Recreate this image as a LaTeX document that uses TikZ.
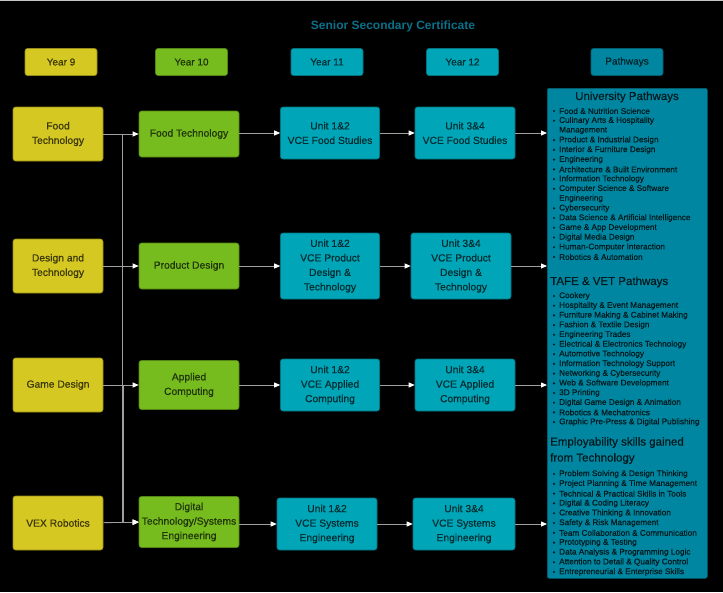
\documentclass[tikz,border=0pt]{standalone}
\usepackage{fontspec}
\setmainfont{Liberation Sans}
\newfontfamily\medfont{Liberation Sans}[FakeBold=0.6]
\usepackage{xcolor}
\usetikzlibrary{arrows.meta,positioning}

\definecolor{yrnine}{HTML}{D6C823}
\definecolor{yrten}{HTML}{76BC1F}
\definecolor{vceteal}{HTML}{00A6B7}
\definecolor{pathteal}{HTML}{0086A0}
\definecolor{titleteal}{HTML}{0A7089}

\tikzset{
  box/.style={draw=#1!70!black, fill=#1, rounded corners=2.5pt, line width=0.6pt,
    align=center, text=#1!28!black, inner sep=1pt,
    font=\medfont\fontsize{10.3}{14.5}\selectfont},
  hdr/.style={box=#1, minimum width=72pt, minimum height=27pt,
    font=\medfont\fontsize{10}{12}\selectfont},
  conn/.style={draw=gray!75, line width=0.8pt,
    -{Triangle[width=5pt,length=6pt,color=white]}},
  item/.style={anchor=west, inner sep=0pt, text=pathteal!20!black,
    font=\medfont\fontsize{8.2}{9.7}\selectfont},
  pathhead/.style={inner sep=0pt, text=pathteal!20!black,
    font=\medfont\fontsize{11.5}{16}\selectfont}
}

\begin{document}
\begin{tikzpicture}[x=1pt,y=-1pt]
\useasboundingbox[fill=black] (0,0) rectangle (723,592);
\draw[gray!45,line width=1pt] (0,0.5) -- (723,0.5);

% Title and column headers
\node[text=titleteal,font=\bfseries\fontsize{12}{14}\selectfont] (title) at (393,26) {Senior Secondary Certificate};
\node[hdr=yrnine] (h9) at (61,62) {Year 9};
\node[hdr=yrten] (h10) at (191.5,62) {Year 10};
\node[hdr=vceteal] (h11) at (327,62) {Year 11};
\node[hdr=vceteal] (h12) at (462.5,62) {Year 12};
\node[hdr=pathteal] (hpath) at (627,62) {Pathways};

% Year 9
\node[box=yrnine,minimum width=90pt,minimum height=54pt] (food9) at (58,134) {Food\\Technology};
\node[box=yrnine,minimum width=90pt,minimum height=54pt] (design9) at (58,266) {Design and\\Technology};
\node[box=yrnine,minimum width=90pt,minimum height=54pt] (game9) at (58,385) {Game Design};
\node[box=yrnine,minimum width=90pt,minimum height=54pt] (vex9) at (58,523) {VEX Robotics};

% Year 10
\node[box=yrten,minimum width=100pt,minimum height=46pt] (food10) at (189,134) {Food Technology};
\node[box=yrten,minimum width=100pt,minimum height=46pt] (prod10) at (189,266) {Product Design};
\node[box=yrten,minimum width=100pt,minimum height=49pt] (app10) at (189,385) {Applied\\Computing};
\node[box=yrten,minimum width=100pt,minimum height=51pt] (digit10) at (189,522) {Digital\\Technology/Systems\\Engineering};

% Year 11
\node[box=vceteal,minimum width=99pt,minimum height=52pt] (food11) at (330,133) {Unit 1\&2\\VCE Food Studies};
\node[box=vceteal,minimum width=99pt,minimum height=66pt] (prod11) at (330,266) {Unit 1\&2\\VCE Product\\Design \&\\Technology};
\node[box=vceteal,minimum width=99pt,minimum height=52pt] (app11) at (330,385) {Unit 1\&2\\VCE Applied\\Computing};
\node[box=vceteal,minimum width=100pt,minimum height=52pt] (sys11) at (327,524) {Unit 1\&2\\VCE Systems\\Engineering};

% Year 12
\node[box=vceteal,minimum width=100pt,minimum height=52pt] (food12) at (465,133) {Unit 3\&4\\VCE Food Studies};
\node[box=vceteal,minimum width=100pt,minimum height=66pt] (prod12) at (461,266) {Unit 3\&4\\VCE Product\\Design \&\\Technology};
\node[box=vceteal,minimum width=100pt,minimum height=52pt] (app12) at (465,385) {Unit 3\&4\\VCE Applied\\Computing};
\node[box=vceteal,minimum width=102pt,minimum height=52pt] (sys12) at (464,524) {Unit 3\&4\\VCE Systems\\Engineering};

% Pathways panel
\node[draw=pathteal!70!black,fill=pathteal,rounded corners=2pt,line width=0.6pt,
  minimum width=160pt,minimum height=490pt,anchor=north west] (path) at (547,88) {};
\node[pathhead] (unihead) at (627,97) {University Pathways};
\foreach \b/\t [count=\i from 0] in {1/Food \& Nutrition Science,1/Culinary Arts \& Hospitality,0/Management,
  1/Product \& Industrial Design,1/Interior \& Furniture Design,1/Engineering,1/Architecture \& Built Environment,
  1/Information Technology,1/Computer Science \& Software,0/Engineering,1/Cybersecurity,
  1/Data Science \& Artificial Intelligence,1/Game \& App Development,1/Digital Media Design,
  1/Human-Computer Interaction,1/Robotics \& Automation}{%
  \ifnum\b=1 \fill[pathteal!20!black] (554,{111+\i*9.73}) circle (1.2pt);\fi
  \node[item] (uni\i) at (559,{111+\i*9.73}) {\t};
}
\node[pathhead,anchor=west] (tafehead) at (550,282) {TAFE \& VET Pathways};
\foreach \t [count=\i from 0] in {Cookery,Hospitality \& Event Management,Furniture Making \& Cabinet Making,
  Fashion \& Textile Design,Engineering Trades,Electrical \& Electronics Technology,Automotive Technology,
  Information Technology Support,Networking \& Cybersecurity,Web \& Software Development,3D Printing,
  Digital Game Design \& Animation,Robotics \& Mechatronics,Graphic Pre-Press \& Digital Publishing}{%
  \fill[pathteal!20!black] (554,{296+\i*9.7}) circle (1.2pt);
  \node[item] (tafe\i) at (559,{296+\i*9.7}) {\t};
}
\node[pathhead,anchor=north west,align=left] (skillhead) at (550,437) {Employability skills gained\\from Technology};
\foreach \t [count=\i from 0] in {Problem Solving \& Design Thinking,Project Planning \& Time Management,
  Technical \& Practical Skills in Tools,Digital \& Coding Literacy,Creative Thinking \& Innovation,
  Safety \& Risk Management,Team Collaboration \& Communication,Prototyping \& Testing,
  Data Analysis \& Programming Logic,Attention to Detail \& Quality Control,Entrepreneurial \& Enterprise Skills}{%
  \fill[pathteal!20!black] (554,{474+\i*9.8}) circle (1.2pt);
  \node[item] (skill\i) at (559,{474+\i*9.8}) {\t};
}

% Connectors
\draw[conn] (food9.east |- food10.west) -- (food10.west);
\draw[conn] (design9) -- (prod10);
\draw[conn] (game9) -- (app10);
\draw[conn] (vex9) -- (digit10);
\draw[conn] (food9.east |- food10.west) -- ++(19,0) |- (digit10.west);
\draw[conn] (game9.east) -- ++(20.5,0) |- (digit10.west);
\foreach \a/\b in {food10/food11,food11/food12,prod10/prod11,prod11/prod12,
  app10/app11,app11/app12,digit10/sys11,sys11/sys12}{
  \draw[conn] (\a.east |- \b.west) -- (\b.west);
}
\foreach \a in {food12,prod12,app12,sys12}{
  \draw[conn] (\a.east) -- (\a.east -| path.west);
}
\end{tikzpicture}
\end{document}
